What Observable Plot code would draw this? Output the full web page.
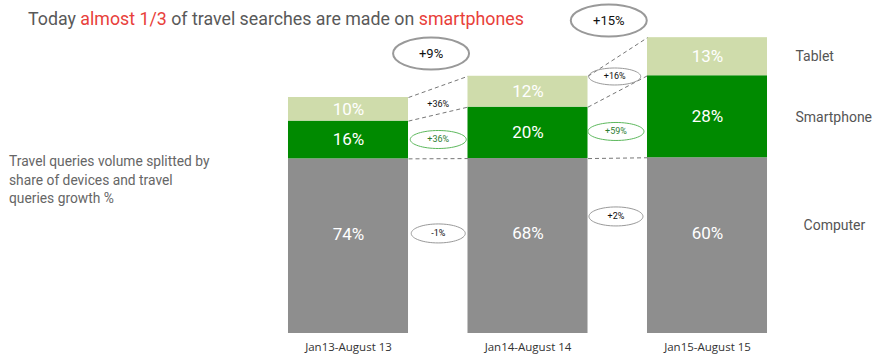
<!DOCTYPE html>
<html><head><meta charset="utf-8">
<script src="https://cdn.jsdelivr.net/npm/d3@7"></script>
<script src="https://cdn.jsdelivr.net/npm/@observablehq/plot@0.6"></script>
<style>
body{margin:0;background:#fff;}
#wrap{position:relative;width:877px;height:357px;overflow:hidden;}
#chart{position:absolute;left:0;top:0;}
#title{position:absolute;left:28px;top:8px;font:17.8px Roboto;color:#595959;white-space:nowrap;}
#title .hl{color:#e8403a;}
#desc{position:absolute;left:9px;top:152px;font:13.8px/18.5px Roboto;color:#666;white-space:nowrap;}
</style></head><body>
<div id="wrap"><div id="chart"></div>
<div id="title">Today <span class="hl">almost 1/3</span> of travel searches are made on <span class="hl">smartphones</span></div>
<div id="desc">Travel queries volume splitted by<br>share of devices and travel<br>queries growth %</div>
</div>
<script>
// ---- data ----
const periods = ["Jan13-August 13", "Jan14-August 14", "Jan15-August 15"];
const devices = ["Computer", "Smartphone", "Tablet"];
const computerShare = [74, 68, 60];
const smartphoneShare = [16, 20, 28];
const tabletShare = [10, 12, 13];
const volumeGrowth = [9, 15];               // total queries growth between periods (%)
const volumeGrowthLabels = ["+9%", "+15%"];
const tabletGrowthLabels = ["+36%", "+16%"];
const smartphoneGrowthLabels = ["+36%", "+59%"];
const computerGrowthLabels = ["-1%", "+2%"];

// ---- layout of annotations (data units: x = period index, y = volume index) ----
const bigLabelPos = [[0.46, 118.6], [1.45, 132.6]];
const tabletLabelPos = [[0.5, 97.0], [1.483, 108.9]];
const smartLabelPos = [[0.5, 82.2], [1.49, 85.6]];
const computerLabelPos = [[0.5, 42.4], [1.49, 49.6]];
const legendPos = [[2.535, 45.8], [2.49, 91.5], [2.49, 117.4]];
const colors = ["#8e8e8e", "#008a00", "#cfdcab"];
const halfBar = 0.3343;

// ---- derived ----
const volume = [100];
volumeGrowth.forEach(g => volume.push(volume[volume.length - 1] * (1 + g / 100)));
const shares = [computerShare, smartphoneShare, tabletShare];
const rows = [];
periods.forEach((p, i) => {
  const sum = shares.reduce((s, a) => s + a[i], 0);
  let acc = 0;
  devices.forEach((d, k) => {
    const v = shares[k][i] / sum * volume[i];
    rows.push({i, period: p, device: d, share: shares[k][i], y1: acc, y2: acc + v});
    acc += v;
  });
});
const links = [];
for (let i = 0; i < periods.length - 1; i++) {
  devices.forEach(d => {
    const a = rows.find(r => r.i === i && r.device === d);
    const b = rows.find(r => r.i === i + 1 && r.device === d);
    links.push({x1: i + halfBar, y1: a.y2, x2: i + 1 - halfBar, y2: b.y2});
  });
}
const mk = (labels, pos) => labels.map((t, j) => ({text: t, x: pos[j][0], y: pos[j][1]}));
const bigLabels = mk(volumeGrowthLabels, bigLabelPos);
const tabletLabels = mk(tabletGrowthLabels, tabletLabelPos);
const smartLabels = mk(smartphoneGrowthLabels, smartLabelPos);
const compLabels = mk(computerGrowthLabels, computerLabelPos);
const legend = devices.map((d, k) => ({text: d, x: legendPos[k][0], y: legendPos[k][1]}));

function ellipse(rx, ry) {
  const k = 0.5523;
  return {draw(c) {
    c.moveTo(rx, 0);
    c.bezierCurveTo(rx, ry * k, rx * k, ry, 0, ry);
    c.bezierCurveTo(-rx * k, ry, -rx, ry * k, -rx, 0);
    c.bezierCurveTo(-rx, -ry * k, -rx * k, -ry, 0, -ry);
    c.bezierCurveTo(rx * k, -ry, rx, -ry * k, rx, 0);
    c.closePath();
  }};
}

const chart = Plot.plot({
  width: 877, height: 357,
  marginBottom: 24,
  style: {fontFamily: "Roboto", background: "transparent"},
  x: {domain: [0, 2], range: [348, 707]},
  y: {domain: [0, 140], range: [333, 2.6], axis: null},
  color: {domain: devices, range: colors},
  marks: [
    Plot.rectY(rows, {x1: d => d.i - halfBar, x2: d => d.i + halfBar, y1: "y1", y2: "y2", fill: "device"}),
    Plot.link(links, {x1: "x1", y1: "y1", x2: "x2", y2: "y2", stroke: "#777", strokeWidth: 1, strokeDasharray: "4,3"}),
    Plot.text(rows.filter(r => r.device !== "Computer"), {x: "i", y: d => (d.y1 + d.y2) / 2, text: d => d.share + "%", fill: "white", fontSize: 17}),
    Plot.text(rows.filter(r => r.device === "Computer"), {x: "i", y: d => (d.y1 + d.y2) / 2, text: d => d.share + "%", fill: "white", fontSize: 17, dy: -12}),
    Plot.dot(bigLabels, {x: "x", y: "y", symbol: ellipse(38, 16), stroke: "#999", strokeWidth: 2, fill: "none"}),
    Plot.text(bigLabels, {x: "x", y: "y", text: "text", fill: "#111", fontSize: 13}),
    Plot.dot(tabletLabels.slice(1), {x: "x", y: "y", symbol: ellipse(26, 8.5), stroke: "#999", strokeWidth: 1, fill: "none"}),
    Plot.text(tabletLabels, {x: "x", y: "y", text: "text", fill: "#111", fontSize: 9}),
    Plot.dot(smartLabels, {x: "x", y: "y", symbol: ellipse(28, 9), stroke: "#5cb85c", strokeWidth: 1, fill: "none"}),
    Plot.text(smartLabels, {x: "x", y: "y", text: "text", fill: "#2e7d32", fontSize: 9}),
    Plot.dot(compLabels, {x: "x", y: "y", symbol: ellipse(27, 9.5), stroke: "#999", strokeWidth: 1, fill: "none"}),
    Plot.text(compLabels, {x: "x", y: "y", text: "text", fill: "#111", fontSize: 9}),
    Plot.text(legend, {x: "x", y: "y", text: "text", textAnchor: "start", fill: "#555", fontSize: 14}),
    Plot.axisX({ticks: [0, 1, 2], tickFormat: i => periods[i], tickSize: 0, tickPadding: 9, fontSize: 11.5, fontFamily: "Open Sans", fill: "#333", label: null})
  ]
});
document.getElementById("chart").appendChild(chart);
</script>
</body></html>
